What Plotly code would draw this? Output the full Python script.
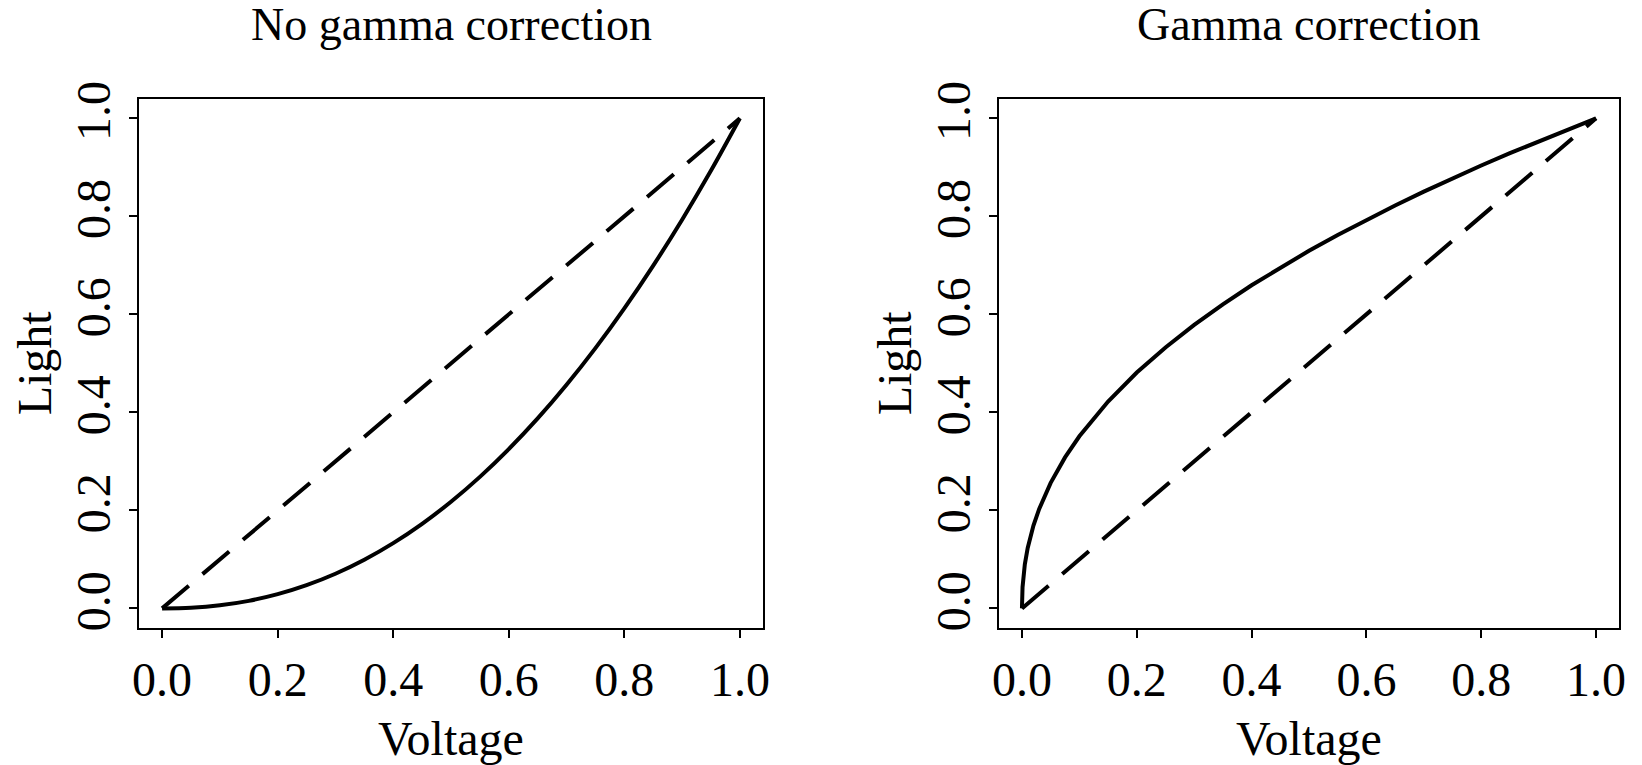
import plotly.graph_objects as go
from plotly.subplots import make_subplots

# Values
voltage_left = [0.0, 0.05, 0.1, 0.15, 0.2, 0.25, 0.3, 0.35, 0.4, 0.45, 0.5,
                0.55, 0.6, 0.65, 0.7, 0.75, 0.8, 0.85, 0.9, 0.95, 1.0]
light_no_gamma = [0.0, 0.0014, 0.0063, 0.0154, 0.029, 0.0474, 0.0707, 0.0993,
                  0.1332, 0.1726, 0.2176, 0.2684, 0.325, 0.3876, 0.4563, 0.531,
                  0.6121, 0.6994, 0.7931, 0.8933, 1.0]

voltage_right = [0.0, 0.001, 0.005, 0.01, 0.02, 0.03, 0.05, 0.075, 0.1, 0.15,
                 0.2, 0.25, 0.3, 0.35, 0.4, 0.45, 0.5, 0.55, 0.6, 0.65, 0.7,
                 0.75, 0.8, 0.85, 0.9, 0.95, 1.0]
light_gamma = [0.0, 0.0433, 0.09, 0.1233, 0.169, 0.2031, 0.2562, 0.3081, 0.3511,
               0.4222, 0.4812, 0.5325, 0.5785, 0.6205, 0.6594, 0.6957, 0.7297,
               0.7621, 0.7928, 0.8222, 0.8503, 0.8774, 0.9036, 0.9288, 0.9532,
               0.977, 1.0]

identity_x = [0.0, 1.0]
identity_y = [0.0, 1.0]

tick_vals = [0.0, 0.2, 0.4, 0.6, 0.8, 1.0]
tick_text = ["0.0", "0.2", "0.4", "0.6", "0.8", "1.0"]
titles = ["No gamma correction", "Gamma correction"]

FONT = "Liberation Serif"
FS = 48
TFS = 46
LW = 4

fig = make_subplots(rows=1, cols=2)

fig.add_trace(go.Scatter(x=voltage_left, y=light_no_gamma, mode="lines",
                         line=dict(color="black", width=LW, shape="spline"),
                         showlegend=False), row=1, col=1)
fig.add_trace(go.Scatter(x=identity_x, y=identity_y, mode="lines",
                         line=dict(color="black", width=LW, dash="35px,18px"),
                         showlegend=False), row=1, col=1)
fig.add_trace(go.Scatter(x=voltage_right, y=light_gamma, mode="lines",
                         line=dict(color="black", width=LW),
                         showlegend=False), row=1, col=2)
fig.add_trace(go.Scatter(x=identity_x, y=identity_y, mode="lines",
                         line=dict(color="black", width=LW, dash="35px,18px"),
                         showlegend=False), row=1, col=2)

axis_common = dict(range=[-0.04, 1.04], tickvals=tick_vals, ticktext=tick_text,
                   ticks="outside", ticklen=8, tickwidth=2, tickcolor="black",
                   showline=True, linecolor="black", linewidth=2, mirror=True,
                   showgrid=False, zeroline=False,
                   tickfont=dict(family=FONT, size=FS, color="black"),
                   automargin=False)

fig.update_xaxes(**axis_common, ticklabelstandoff=0,
                 title=dict(text="Voltage", font=dict(family=FONT, size=FS, color="black"),
                            standoff=27))
fig.update_yaxes(**axis_common, tickangle=-90, ticklabelstandoff=0,
                 title=dict(text="Light", font=dict(family=FONT, size=FS, color="black"),
                            standoff=0))

fig.update_layout(
    width=1642, height=765,
    margin=dict(l=0, r=0, t=0, b=0),
    plot_bgcolor="white", paper_bgcolor="white",
    xaxis=dict(domain=[139 / 1642, 763 / 1642]),
    xaxis2=dict(domain=[999 / 1642, 1619 / 1642]),
    yaxis=dict(domain=[1 - 628 / 765, 1 - 98.7 / 765]),
    yaxis2=dict(domain=[1 - 628 / 765, 1 - 98.7 / 765]),
)

for i, t in enumerate(titles):
    dom = fig.layout["xaxis" if i == 0 else "xaxis2"].domain
    fig.add_annotation(text=t, x=(dom[0] + dom[1]) / 2, y=1 - 25 / 765,
                       xref="paper", yref="paper", showarrow=False,
                       xanchor="center", yanchor="middle",
                       font=dict(family=FONT, size=TFS, color="black"))

fig.write_html("out.html")
